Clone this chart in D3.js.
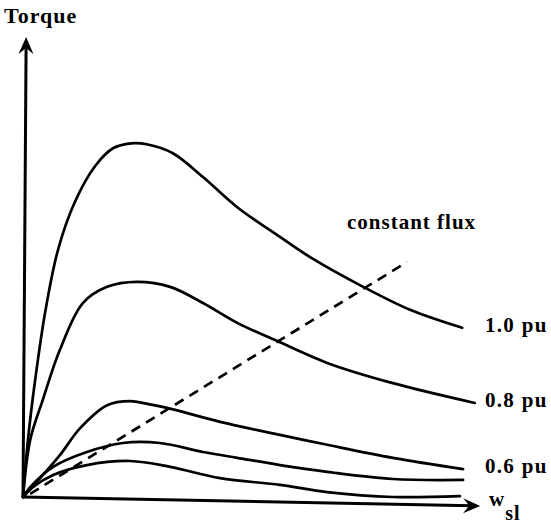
<!DOCTYPE html>
<html>
<head>
<meta charset="utf-8">
<script src="https://cdn.jsdelivr.net/npm/d3@7"></script>
<style>
  body { margin: 0; background: #fff; }
  text { font-family: "Liberation Serif", "Times New Roman", serif; font-weight: bold; fill: #000; }
</style>
</head>
<body>
<svg id="chart"></svg>
<script>
// Torque vs slip frequency, one curve per flux level
var curve10 = [[0,0],[0.11,1.27],[0.27,2.6],[0.5,4.15],[0.78,5.5],[1.15,6.55],[1.6,7.35],[2.0,7.75],[2.4,7.86],[2.75,7.84],[3.33,7.64],[4.0,7.11],[4.76,6.44],[5.71,5.78],[6.38,5.33],[7.56,4.67],[8.6,4.16],[9.76,3.76]];
var curve08 = [[0,0],[0.16,1.27],[0.44,2.16],[0.82,3.27],[1.33,4.31],[1.87,4.67],[2.53,4.78],[3.27,4.67],[4.0,4.31],[4.76,3.87],[5.64,3.47],[6.76,2.98],[8.22,2.53],[10.04,2.09]];
var curve06 = [[0,0],[0.38,0.42],[0.82,0.93],[1.27,1.53],[1.87,2.04],[2.38,2.13],[2.76,2.07],[3.2,1.98],[4.38,1.67],[5.71,1.38],[6.76,1.16],[8.22,0.87],[9.78,0.62]];
var curve04 = [[0,0],[0.16,0.22],[0.67,0.67],[1.42,1.0],[2.22,1.2],[3.04,1.2],[4.0,1.0],[4.76,0.87],[5.71,0.71],[6.76,0.56],[8.22,0.4],[9.78,0.38]];
var curve02 = [[0,0],[0.22,0.22],[0.67,0.49],[1.42,0.71],[2.38,0.8],[3.27,0.67],[4.38,0.42],[5.71,0.27],[6.76,0.11],[8.22,0.0],[9.71,0.02]];
var constFlux = [[0.16,0.07],[8.53,5.22]];
var curveLabels = ["1.0 pu", "0.8 pu", "0.6 pu"];
var labelTorque = [3.76, 2.09, 0.62];

var width = 551, height = 523;

var x = d3.scaleLinear().domain([0, 10]).range([23, 473]);
var y = d3.scaleLinear().domain([0, 10]).range([497, 47]);

var svg = d3.select("#chart")
    .attr("width", width)
    .attr("height", height);

var line = d3.line()
    .x(function (d) { return x(d[0]); })
    .y(function (d) { return y(d[1]); })
    .curve(d3.curveCatmullRom.alpha(0.5));

// Axes (the scan is slightly skewed, so the ends are not square)
var yTip = [0.07, 10.22], xTip = [10.16, -0.2];

function axisArrow(tip) {
    var x0 = x(0), y0 = y(0), x1 = x(tip[0]), y1 = y(tip[1]);
    var a = Math.atan2(y1 - y0, x1 - x0);
    var len = 17, half = 7.5;
    svg.append("line")
        .attr("x1", x0).attr("y1", y0)
        .attr("x2", x1 - Math.cos(a) * 8).attr("y2", y1 - Math.sin(a) * 8)
        .attr("stroke", "#000")
        .attr("stroke-width", 3);
    var bx = x1 - Math.cos(a) * len, by = y1 - Math.sin(a) * len;
    var px = -Math.sin(a) * half, py = Math.cos(a) * half;
    svg.append("path")
        .attr("d", "M" + x1 + "," + y1 +
            "L" + (bx + px) + "," + (by + py) +
            "L" + (x1 - Math.cos(a) * 11) + "," + (y1 - Math.sin(a) * 11) +
            "L" + (bx - px) + "," + (by - py) + "Z")
        .attr("fill", "#000");
}
axisArrow(yTip);
axisArrow(xTip);

// Torque curves
svg.selectAll(".torque")
    .data([curve10, curve08, curve06, curve04, curve02])
    .enter().append("path")
    .attr("class", "torque")
    .attr("d", line)
    .attr("fill", "none")
    .attr("stroke", "#000")
    .attr("stroke-width", 2.7)
    .attr("stroke-linecap", "round");

// Constant flux dashed line
svg.append("path")
    .datum(constFlux)
    .attr("d", d3.line().x(function (d) { return x(d[0]); }).y(function (d) { return y(d[1]); }))
    .attr("fill", "none")
    .attr("stroke", "#000")
    .attr("stroke-width", 2.7)
    .attr("stroke-dasharray", "10,7");

// Labels
svg.append("text")
    .attr("x", 4).attr("y", 23)
    .style("font-size", "22px")
    .style("letter-spacing", "1px")
    .text("Torque");

svg.append("text")
    .attr("x", 347).attr("y", 229)
    .style("font-size", "21px")
    .style("letter-spacing", "1px")
    .text("constant flux");

svg.selectAll(".pu")
    .data(curveLabels)
    .enter().append("text")
    .attr("class", "pu")
    .attr("x", 485)
    .attr("y", function (d, i) { return y(labelTorque[i]) + 4; })
    .style("font-size", "21px")
    .style("letter-spacing", "1.3px")
    .text(function (d) { return d; });

var ws = svg.append("text")
    .attr("x", 489).attr("y", 506)
    .style("font-size", "21px");
ws.append("tspan").text("w");
ws.append("tspan")
    .attr("dx", 1).attr("dy", 14)
    .style("font-size", "20px")
    .style("letter-spacing", "1px")
    .text("sl");
</script>
</body>
</html>
